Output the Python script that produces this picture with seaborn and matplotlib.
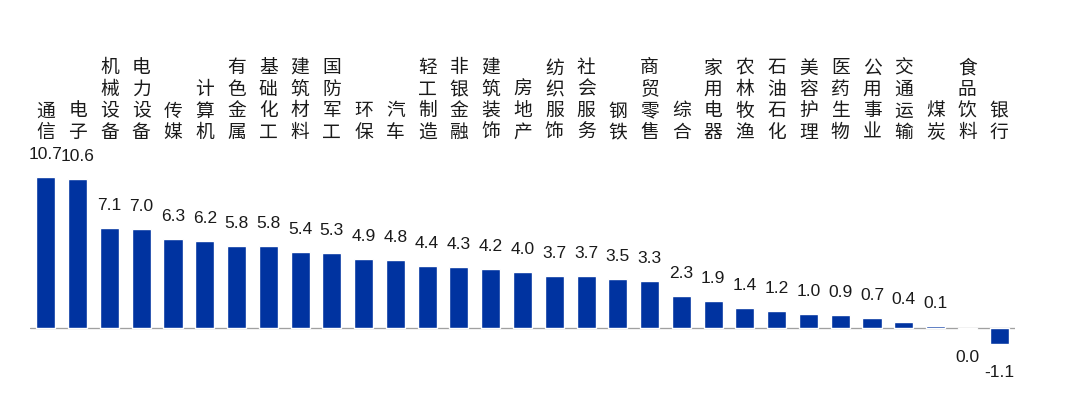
import numpy as np
import pandas as pd
import seaborn as sns
import matplotlib.pyplot as plt

# 行业涨跌幅(%)
industries = ['通信', '电子', '机械设备', '电力设备', '传媒', '计算机', '有色金属', '基础化工',
              '建筑材料', '国防军工', '环保', '汽车', '轻工制造', '非银金融', '建筑装饰', '房地产',
              '纺织服饰', '社会服务', '钢铁', '商贸零售', '综合', '家用电器', '农林牧渔', '石油石化',
              '美容护理', '医药生物', '公用事业', '交通运输', '煤炭', '食品饮料', '银行']
returns = [10.7, 10.6, 7.1, 7.0, 6.3, 6.2, 5.8, 5.8, 5.4, 5.3, 4.9, 4.8, 4.4, 4.3, 4.2, 4.0,
           3.7, 3.7, 3.5, 3.3, 2.3, 1.9, 1.4, 1.2, 1.0, 0.9, 0.7, 0.4, 0.14, -0.045, -1.1]

bar_color = '#0033A0'
px = 72 / 100  # points per pixel at dpi 100

df = pd.DataFrame({'industry': industries, 'ret': returns})

sns.set_theme(style='white')
plt.rcParams['font.family'] = ['Liberation Sans', 'Noto Sans CJK SC', 'DejaVu Sans']

fig = plt.figure(figsize=(10.8, 4.06), dpi=100)
ax = fig.add_axes([30 / 1080, 0, 985 / 1080, 1])

sns.barplot(data=df, x='industry', y='ret', color=bar_color, saturation=1, width=0.6, ax=ax)

ax.set_xlim(-0.5, 30.5)
ax.set_ylim(-5.46, 23.33)
ax.set_axis_off()
ax.axhline(0, color='#A0A0A0', lw=1.3 * px, zorder=0.5)

# 数值标签
for i, v in enumerate(returns):
    txt = f'{abs(v):.1f}' if abs(v) < 0.05 else f'{v:.1f}'
    if v >= 0:
        ax.annotate(txt, (i, v), xytext=(0, 19 * px), textcoords='offset points',
                    ha='center', va='baseline', fontsize=12.5, color='#1a1a1a')
    else:
        ax.annotate(txt, (i, v), xytext=(0, -20 * px), textcoords='offset points',
                    ha='center', va='top', fontsize=12.5, color='#1a1a1a')

# 行业名称 竖排
label_base = (329 - 143) / 14.1
for i, name in enumerate(industries):
    for j, ch in enumerate(reversed(name)):
        ax.annotate(ch, (i, label_base), xytext=(0, j * 21.5 * px), textcoords='offset points',
                    ha='center', va='bottom', fontsize=13.5, color='#1a1a1a',
                    family=['Noto Sans CJK SC', 'DejaVu Sans'])

fig.savefig('out.png', dpi=100)
